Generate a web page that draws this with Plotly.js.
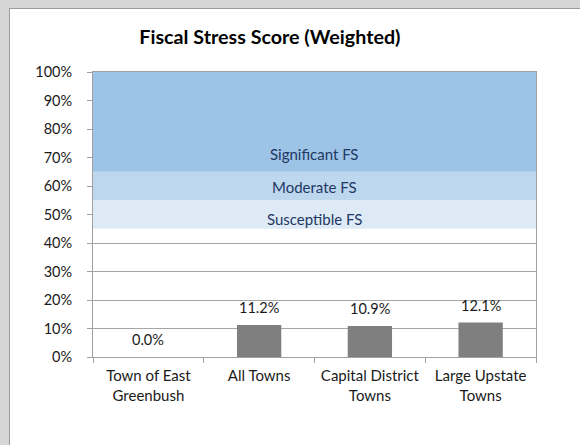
<!DOCTYPE html>
<html>
<head>
<meta charset="utf-8">
<script src="https://cdn.plot.ly/plotly-3.0.1.min.js"></script>
<style>
    body { margin: 0; background: #d6d6d6; width: 580px; height: 445px; overflow: hidden; }
    #chart {
        position: absolute; left: 9px; top: 8px;
        width: 570px; height: 436px;
        border-left: 1px solid #9c9c9c; border-top: 1px solid #9c9c9c;
        background: #fff;
    }
</style>
</head>
<body>
<div id="chart"></div>
<script>
// Chart data
const categories = ['Town of East<br>Greenbush', 'All Towns', 'Capital District<br>Towns', 'Large Upstate<br>Towns'];
const scores = [0.0, 11.2, 10.9, 12.1];

// Fiscal stress bands (percent)
const bandNames = ['Susceptible FS', 'Moderate FS', 'Significant FS'];
const bandLow = [45, 55, 65];
const bandHigh = [55, 65, 100];
const bandColors = ['#deebf7', '#bdd7ee', '#9dc3e6'];
const bandLabelY = [48.5, 59.7, 71.4];

const font = 'Lato, "Open Sans", sans-serif';

const bars = {
    x: categories,
    y: scores,
    type: 'bar',
    width: 0.4,
    marker: { color: '#7f7f7f' },
    hoverinfo: 'x+y'
};

// bands sit over the gridlines (bars never reach them)
const shapes = bandNames.map((name, i) => ({
    type: 'rect',
    xref: 'paper', yref: 'y',
    x0: 0, x1: 1,
    y0: bandLow[i], y1: bandHigh[i],
    fillcolor: bandColors[i],
    line: { width: 0 },
    layer: 'above'
}));

const bandLabels = bandNames.map((name, i) => ({
    xref: 'paper', yref: 'y',
    x: 0.5, y: bandLabelY[i],
    text: name,
    showarrow: false,
    font: { family: font, size: 15, color: '#1f3864' }
}));

const valueLabels = categories.map((c, i) => ({
    x: c, y: scores[i],
    text: scores[i].toFixed(1) + '%',
    showarrow: false,
    yanchor: 'bottom',
    yshift: 7,
    font: { family: font, size: 14.5, color: '#1a1a1a' }
}));

const layout = {
    width: 570,
    height: 436,
    margin: { l: 83, r: 44, t: 63, b: 88 },
    paper_bgcolor: '#ffffff',
    plot_bgcolor: '#ffffff',
    showlegend: false,
    font: { family: font, size: 14, color: '#1a1a1a' },
    title: {
        text: '<b>Fiscal Stress Score (Weighted)</b>',
        font: { family: font, size: 19.7, color: '#000' },
        xref: 'container', x: 0.456,
        yref: 'container', y: 0.936, yanchor: 'middle'
    },
    xaxis: {
        type: 'category',
        tickson: 'boundaries',
        ticks: 'outside',
        ticklen: 5,
        tickcolor: '#a0a0a0',
        showline: true,
        linecolor: '#a0a0a0',
        mirror: true,
        showgrid: false,
        ticklabelstandoff: 5,
        tickfont: { family: font, size: 15, color: '#1a1a1a' },
        fixedrange: true
    },
    yaxis: {
        range: [0, 100],
        dtick: 10,
        ticksuffix: '%',
        ticks: 'outside',
        ticklen: 5,
        tickcolor: '#a0a0a0',
        showline: true,
        linecolor: '#a0a0a0',
        mirror: true,
        showgrid: true,
        gridcolor: '#a6a6a6',
        zeroline: false,
        ticklabelstandoff: 12,
        tickfont: { family: font, size: 14.5, color: '#1a1a1a' },
        fixedrange: true
    },
    shapes: shapes,
    annotations: bandLabels.concat(valueLabels)
};

Plotly.newPlot('chart', [bars], layout, { displayModeBar: false, staticPlot: true });
</script>
</body>
</html>
